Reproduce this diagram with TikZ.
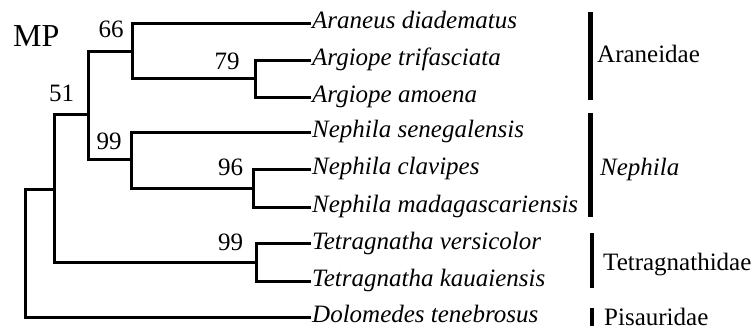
\documentclass[tikz,border=0pt]{standalone}
\usepackage{fontspec}
\setmainfont{Liberation Serif}
\usepackage{tikz}
\usetikzlibrary{positioning}

\begin{document}
\begin{tikzpicture}[
  x=1pt,y=-1pt,
  branch/.style={line width=3pt},
  taxon/.style={anchor=west,inner xsep=1pt,inner ysep=0pt,text height=16pt,text depth=5pt,font=\fontsize{25}{29}\selectfont\itshape},
  family/.style={anchor=west,inner sep=0pt,text height=16pt,text depth=5pt,font=\fontsize{25}{29}\selectfont},
  boot/.style={inner sep=0pt,font=\fontsize{25}{29}\selectfont},
  bar/.style={line width=4.2pt}
]
\useasboundingbox (0,0) rectangle (756,332);
\node[anchor=base west,inner sep=0pt,font=\fontsize{32}{36}\selectfont] (method) at (13,46) {MP};
\coordinate (root) at (25,253);
\coordinate (n51) at (54,189);
\coordinate (nAN) at (88,114);
\coordinate (n66) at (132,51);
\coordinate (n79) at (255,78);
\coordinate (nNep) at (131,159);
\coordinate (n96) at (253,188);
\coordinate (nTet) at (256,262);
\node[taxon] (ara) at (311,23.3) {Araneus diadematus};
\node[taxon] (atr) at (311,60) {Argiope trifasciata};
\node[taxon] (aam) at (311,97) {Argiope amoena};
\node[taxon] (nse) at (311,132) {Nephila senegalensis};
\node[taxon] (ncl) at (311,169) {Nephila clavipes};
\node[taxon] (nma) at (311,207) {Nephila madagascariensis};
\node[taxon] (tve) at (311,243.5) {Tetragnatha versicolor};
\node[taxon] (tka) at (311,281) {Tetragnatha kauaiensis};
\node[taxon] (dte) at (311,317) {Dolomedes tenebrosus};
\node[boot] (b66) at (111,29) {66};
\node[boot] (b79) at (227,61.5) {79};
\node[boot] (b51) at (61.5,93.5) {51};
\node[boot] (b99n) at (109,141.5) {99};
\node[boot] (b96) at (230.5,167.5) {96};
\node[boot] (b99t) at (230.5,242.5) {99};
\draw[branch] (root) |- (n51);
\draw[branch] (root) |- (dte.west);
\draw[branch] (n51) |- (nAN);
\draw[branch] (n51) |- (nTet);
\draw[branch] (nAN) |- (n66);
\draw[branch] (nAN) |- (nNep);
\draw[branch] (n66) |- (ara.west);
\draw[branch] (n66) |- (n79);
\draw[branch] (n79) |- (atr.west);
\draw[branch] (n79) |- (aam.west);
\draw[branch] (nNep) |- (nse.west);
\draw[branch] (nNep) |- (n96);
\draw[branch] (n96) |- (ncl.west);
\draw[branch] (n96) |- (nma.west);
\draw[branch] (nTet) |- (tve.west);
\draw[branch] (nTet) |- (tka.west);
\draw[bar] (590.5,12) -- (590.5,100);
\draw[bar] (590.5,113) -- (590.5,217);
\draw[bar] (592,233) -- (592,288);
\draw[bar] (592,308) -- (592,326);
\node[family] (araneidae) at (597,57.5) {Araneidae};
\node[family] (nephila) at (600,169.5) {\itshape Nephila};
\node[family] (tetragnathidae) at (603,264.5) {Tetragnathidae};
\node[family] (pisauridae) at (604,319.5) {Pisauridae};
\end{tikzpicture}
\end{document}
